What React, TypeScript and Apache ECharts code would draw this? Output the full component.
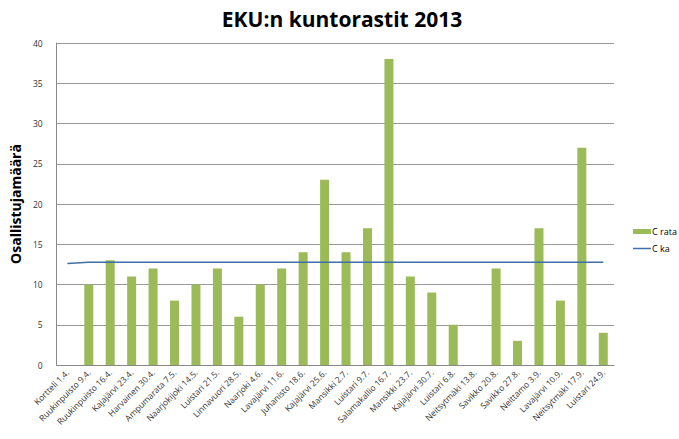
import React, { useEffect, useRef } from "react";
import * as echarts from "echarts";

const categories = [
  "Kortteli 1.4.", "Ruukinpuisto 9.4.", "Ruukinpuisto 16.4.", "Kajajärvi 23.4.", "Harvainen 30.4.",
  "Ampumarata 7.5.", "Naarjokijoki 14.5.", "Luistari 21.5.", "Linnavuori 28.5.", "Naarjoki 4.6.",
  "Lavajärvi 11.6.", "Juhanisto 18.6.", "Kajajärvi 25.6.", "Mansikki 2.7.", "Luistari 9.7.",
  "Salamakallio 16.7.", "Mansikki 23.7.", "Kajajärvi 30.7.", "Luistari 6.8.", "Neitsytmäki 13.8.",
  "Savikko 20.8.", "Savikko 27.8.", "Neittamo 3.9.", "Lavajärvi 10.9.", "Neitsytmäki 17.9.", "Luistari 24.9.",
];
const cRata = [null, 10, 13, 11, 12, 8, 10, 12, 6, 10, 12, 14, 23, 14, 17, 38, 11, 9, 5, null, 12, 3, 17, 8, 27, 4];
const cKa = [12.6, 12.75, 12.75, 12.75, 12.75, 12.75, 12.75, 12.75, 12.75, 12.75, 12.75, 12.75, 12.75, 12.75, 12.75, 12.75, 12.75, 12.75, 12.75, 12.75, 12.75, 12.75, 12.75, 12.75, 12.75, 12.75];
const yTicks = { min: 0, max: 40, interval: 5 };

export default function App() {
  const ref = useRef<HTMLDivElement>(null);
  useEffect(() => {
    const chart = echarts.init(ref.current!, null, { renderer: "svg" });
    chart.setOption({
      animation: false,
      textStyle: { fontFamily: "Open Sans" },
      title: {
        text: "EKU:n kuntorastit 2013",
        left: 337,
        top: 3,
        textAlign: "center",
        textStyle: { fontFamily: "Open Sans", fontWeight: "bold", fontSize: 21, color: "#000" },
      },
      grid: { left: 46, right: 65, top: 43, bottom: 74, containLabel: false },
      legend: {
        orient: "vertical",
        left: 628,
        top: 222,
        itemWidth: 18,
        itemHeight: 5,
        itemGap: 8,
        textStyle: { fontSize: 9, color: "#000", padding: [0, 0, 0, -4] },
        data: [
          { name: "C rata", icon: "rect" },
          { name: "C ka", icon: "path://M0,0L36,0L36,3L0,3Z", itemStyle: { color: "#3F6FA8" } },
        ],
      },
      xAxis: {
        type: "category",
        data: categories,
        axisLine: { lineStyle: { color: "#888" } },
        axisTick: { show: false },
        axisLabel: { rotate: 45, fontSize: 8.5, color: "#333", interval: 0, margin: 6 },
      },
      yAxis: {
        type: "value",
        min: yTicks.min,
        max: yTicks.max,
        interval: yTicks.interval,
        name: "Osallistujamäärä",
        nameLocation: "middle",
        nameRotate: 90,
        nameGap: 23,
        nameTextStyle: { fontSize: 14, fontWeight: "bold", color: "#000" },
        axisLine: { show: true, lineStyle: { color: "#888" } },
        axisTick: { show: false },
        axisLabel: { fontSize: 8.5, color: "#333", margin: 14 },
        splitLine: { lineStyle: { color: "#999" } },
      },
      series: [
        {
          name: "C rata",
          type: "bar",
          data: cRata,
          barWidth: 9,
          itemStyle: { color: "#9BBB59" },
        },
        {
          name: "C ka",
          type: "line",
          data: cKa,
          symbol: "none",
          lineStyle: { color: "#3F6FA8", width: 1.5 },
          itemStyle: { color: "#3F6FA8" },
        },
      ],
    });
    return () => chart.dispose();
  }, []);
  return <div ref={ref} style={{ width: 679, height: 439, position: "absolute", left: 0, top: 0, background: "#fff" }} />;
}
